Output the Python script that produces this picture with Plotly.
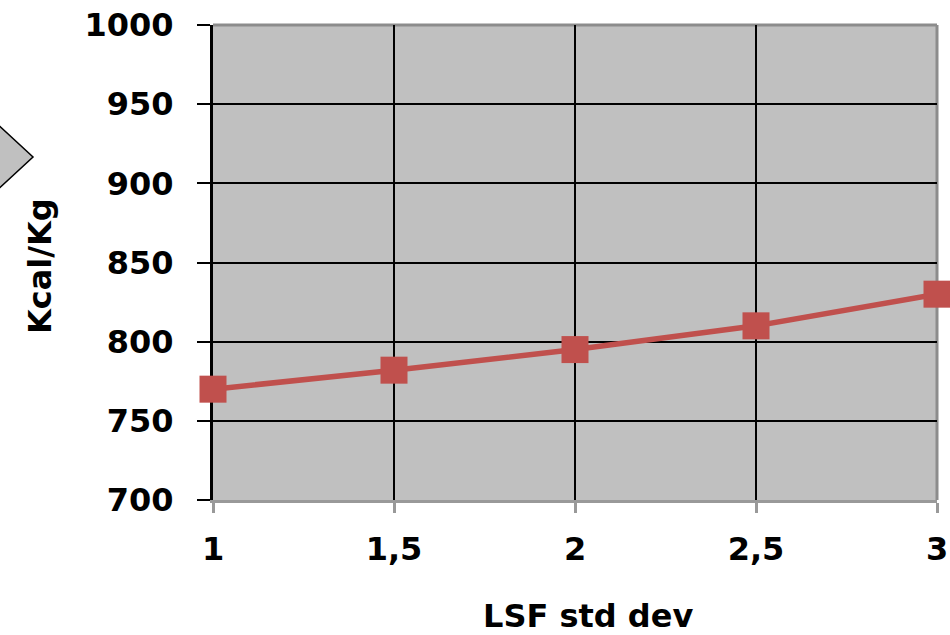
import plotly.graph_objects as go

x_vals = [1, 1.5, 2, 2.5, 3]
y_vals = [770, 782, 795, 810, 830]
x_ticks = [1, 1.5, 2, 2.5, 3]
x_ticktext = ["1", "1,5", "2", "2,5", "3"]
y_ticks = [700, 750, 800, 850, 900, 950, 1000]
x_title = "LSF std dev"
y_title = "Kcal/Kg"

W, H = 950, 635
L, R, T, B = 213, 13, 25, 135
pw, ph = W - L - R, H - T - B

def px(xp):
    return (xp - L) / pw

def py(yp):
    return (H - B - yp) / ph

FONT = dict(family="DejaVu Sans, Arial, sans-serif", size=32, color="black", weight="bold")

fig = go.Figure()
fig.add_trace(go.Scatter(
    x=x_vals, y=y_vals, mode="lines+markers",
    line=dict(color="#c0504d", width=5.5),
    marker=dict(symbol="square", size=27, color="#c0504d"),
    cliponaxis=False, showlegend=False,
))

fig.update_layout(
    width=W, height=H,
    margin=dict(l=L, r=R, t=T, b=B, autoexpand=False),
    paper_bgcolor="white", plot_bgcolor="#c0c0c0",
    xaxis=dict(
        range=[1, 3], tickvals=x_ticks, ticktext=x_ticktext,
        showgrid=True, gridcolor="black", gridwidth=2,
        showline=True, linecolor="#999999", linewidth=3,
        ticks="outside", ticklen=10, tickwidth=3, tickcolor="#999999",
        tickfont=FONT, ticklabelstandoff=9, zeroline=False,
        layer="below traces",
    ),
    yaxis=dict(
        range=[700, 1000], tickvals=y_ticks,
        showgrid=True, gridcolor="black", gridwidth=2,
        showline=True, linecolor="black", linewidth=3,
        ticks="outside", ticklen=13, tickwidth=2, tickcolor="black",
        tickfont=FONT, ticklabelstandoff=17, zeroline=False,
        layer="below traces",
    ),
    shapes=[
        dict(type="line", xref="paper", yref="paper", x0=0, x1=1, y0=1, y1=1,
             line=dict(color="#8c8c8c", width=3), layer="between"),
        dict(type="line", xref="paper", yref="paper", x0=1, x1=1, y0=0, y1=1,
             line=dict(color="#8c8c8c", width=3), layer="between"),
        dict(type="path", xref="paper", yref="paper",
             path=f"M {px(-5)},{py(122)} L {px(33)},{py(157)} L {px(-5)},{py(192)} Z",
             fillcolor="#c0c0c0", line=dict(color="black", width=1.5), layer="above"),
    ],
    annotations=[
        dict(text=x_title, xref="paper", yref="paper", x=px(588), y=py(616),
             showarrow=False, font=FONT, xanchor="center", yanchor="middle"),
        dict(text=y_title, xref="paper", yref="paper", x=px(40), y=py(266),
             showarrow=False, font=FONT, textangle=-90, xanchor="center", yanchor="middle"),
    ],
)

fig.write_html(
    "out.html",
    config={"displayModeBar": False},
    post_script="document.body.style.margin='0';document.body.style.overflow='hidden';",
)
